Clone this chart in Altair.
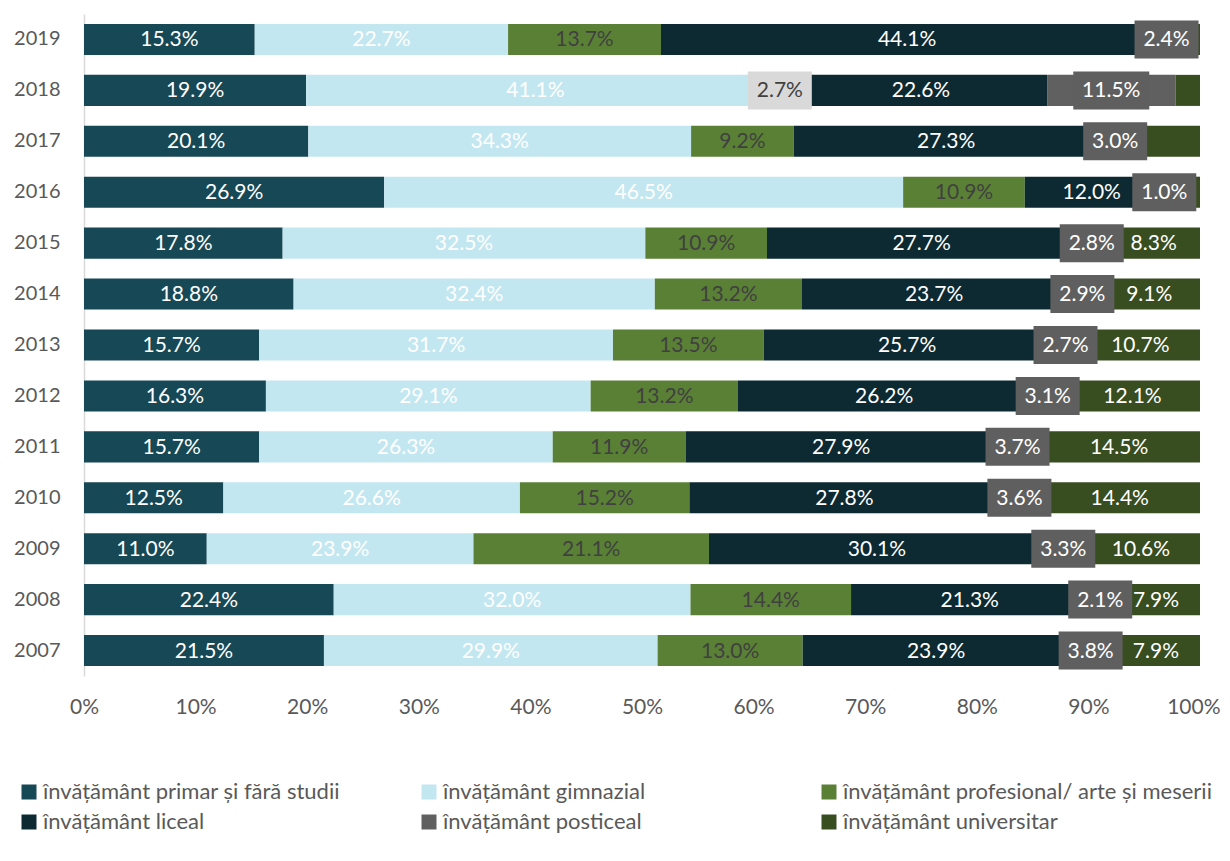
import altair as alt
import pandas as pd

years = ["2019", "2018", "2017", "2016", "2015", "2014", "2013",
         "2012", "2011", "2010", "2009", "2008", "2007"]

categories = [
    "învățământ primar și fără studii",
    "învățământ gimnazial",
    "învățământ profesional/ arte și meserii",
    "învățământ liceal",
    "învățământ posticeal",
    "învățământ universitar",
]
colors = ["#174856", "#C3E7F0", "#5A8036", "#0D2A33", "#606060", "#384D20"]

primar = [15.3, 19.9, 20.1, 26.9, 17.8, 18.8, 15.7, 16.3, 15.7, 12.5, 11.0, 22.4, 21.5]
gimnazial = [22.7, 41.1, 34.3, 46.5, 32.5, 32.4, 31.7, 29.1, 26.3, 26.6, 23.9, 32.0, 29.9]
profesional = [13.7, 2.7, 9.2, 10.9, 10.9, 13.2, 13.5, 13.2, 11.9, 15.2, 21.1, 14.4, 13.0]
liceal = [44.1, 22.6, 27.3, 12.0, 27.7, 23.7, 25.7, 26.2, 27.9, 27.8, 30.1, 21.3, 23.9]
posticeal = [2.4, 11.5, 3.0, 1.0, 2.8, 2.9, 2.7, 3.1, 3.7, 3.6, 3.3, 2.1, 3.8]
universitar = [1.8, 2.2, 6.1, 2.7, 8.3, 9.1, 10.7, 12.1, 14.5, 14.4, 10.6, 7.9, 7.9]
# universitar labels are not shown for these years
universitar_unlabelled = ["2019", "2018", "2017", "2016"]

series = [primar, gimnazial, profesional, liceal, posticeal, universitar]

rows = []
for i, yr in enumerate(years):
    vals = [s[i] for s in series]
    total = sum(vals)
    cum = 0.0
    for j, cat in enumerate(categories):
        v = vals[j]
        start = cum / total
        cum += v
        end = cum / total
        label = f"{v:.1f}%"
        if j == 5 and yr in universitar_unlabelled:
            label = ""
        rows.append({"year": yr, "cat": cat, "idx": j, "value": v,
                     "start": start, "end": end, "mid": (start + end) / 2,
                     "label": label})
df = pd.DataFrame(rows)

FONT = "Lato"
AXIS_COLOR = "#595959"

y_enc = alt.Y("year:N", sort=years, title=None,
              scale=alt.Scale(paddingInner=0.39, paddingOuter=0.195),
              axis=alt.Axis(domain=True, domainColor="#d9d9d9", domainWidth=1.5,
                            ticks=False, tickSize=0, labelPadding=24,
                            labelFont=FONT, labelFontSize=20, labelColor=AXIS_COLOR))

x_scale = alt.Scale(domain=[0, 1])

base = alt.Chart(df)

bars = base.mark_bar().encode(
    y=y_enc,
    x=alt.X("start:Q", scale=x_scale, title=None,
            axis=alt.Axis(format=".0%", values=[i / 10 for i in range(11)],
                          domain=False, ticks=False, tickSize=0, grid=False,
                          labelPadding=20, labelFont=FONT, labelFontSize=21,
                          labelColor=AXIS_COLOR, labelFlush=False,
                          labelAlign=alt.condition("datum.value >= 1",
                                                   alt.value("right"), alt.value("center")),
                          labelOffset=alt.condition("datum.value >= 1",
                                                    alt.value(20), alt.value(0)))),
    x2="end:Q",
    color=alt.Color("cat:N", scale=alt.Scale(domain=categories, range=colors),
                    legend=alt.Legend(orient="none", legendX=-66, legendY=767,
                                      columns=3, direction="horizontal",
                                      title=None, symbolType="square",
                                      symbolSize=225, symbolStrokeWidth=0,
                                      labelFont=FONT, labelFontSize=22,
                                      labelColor=AXIS_COLOR, labelOffset=3,
                                      labelLimit=460, gridAlign="all",
                                      columnPadding=6, rowPadding=8,
                                      padding=0)),
    order=alt.Order("idx:Q"),
)

BOX4 = "M-1.6,-0.95L1.6,-0.95L1.6,0.95L-1.6,0.95Z"
BOX5 = "M-1.9,-0.95L1.9,-0.95L1.9,0.95L-1.9,0.95Z"

boxes = base.transform_filter(
    f"datum.cat == '{categories[4]}' || (datum.year == '2018' && datum.cat == '{categories[2]}')"
).transform_calculate(
    boxcolor=f"datum.cat == '{categories[4]}' ? '#5f5f5f' : '#d9d9d9'"
).mark_point(filled=True, size=1600, opacity=1, strokeWidth=0).encode(
    y=alt.Y("year:N", sort=years),
    x=alt.X("mid:Q", scale=x_scale),
    shape=alt.condition("length(datum.label) > 4", alt.value(BOX5), alt.value(BOX4)),
    fill=alt.Fill("boxcolor:N", scale=None),
)

texts = base.transform_filter("datum.label != ''").transform_calculate(
    lcolor=f"datum.cat == '{categories[2]}' ? '#404040' : '#ffffff'"
).mark_text(font=FONT, fontSize=21, baseline="middle", align="center", dy=1).encode(
    y=alt.Y("year:N", sort=years),
    x=alt.X("mid:Q", scale=x_scale),
    text="label:N",
    color=alt.Color("lcolor:N", scale=None),
)

chart = alt.layer(bars, boxes, texts).properties(
    width=1116, height=662,
    padding={"left": 76, "top": 6, "right": 22, "bottom": 170},
    autosize=alt.AutoSizeParams(type="none"),
).configure_view(stroke=None)

chart.save("out.html", embed_options={"renderer": "svg", "actions": False})
